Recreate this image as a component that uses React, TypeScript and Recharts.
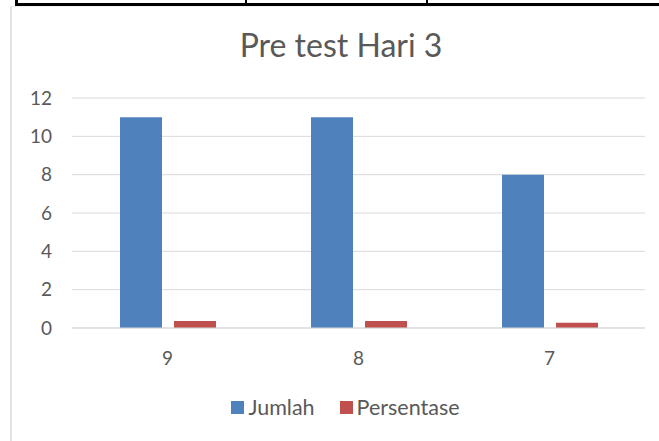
import { Bar, BarChart, CartesianGrid, Legend, XAxis, YAxis } from 'recharts';

const categories = ['9', '8', '7'];
const jumlah = [11, 11, 8];
const persentase = [0.37, 0.37, 0.27];
const yTicks = [0, 2, 4, 6, 8, 10, 12];
const chartTitle = 'Pre test Hari 3';

const data = categories.map((name, i) => ({
  name,
  Jumlah: jumlah[i],
  Persentase: persentase[i],
}));

const FONT = 'Lato, "Open Sans", sans-serif';
const TEXT = '#595959';
const BLUE = '#4F81BD';
const RED = '#C0504D';

const renderLegend = (props: any) => {
  const items = props.payload || [];
  return (
    <div style={{ display: 'flex', justifyContent: 'center', fontFamily: FONT, fontSize: 21.5, color: TEXT }}>
      {items.map((it: any, i: number) => (
        <div key={it.value} style={{ display: 'flex', alignItems: 'center', marginLeft: i === 0 ? 0 : 25 }}>
          <span style={{ width: 13, height: 13, background: it.color, display: 'inline-block', marginRight: 4 }} />
          <span>{it.value}</span>
        </div>
      ))}
    </div>
  );
};

const App = () => {
  return (
    <div style={{ position: 'absolute', left: 0, top: 0, width: 659, height: 441, background: '#fff', overflow: 'hidden' }}>
      {/* table lines above the chart */}
      <div style={{ position: 'absolute', left: 15, top: 3, width: 660, height: 3, background: '#000' }} />
      <div style={{ position: 'absolute', left: 15, top: 0, width: 3, height: 5, background: '#000' }} />
      <div style={{ position: 'absolute', left: 245, top: 0, width: 2, height: 5, background: '#000' }} />
      <div style={{ position: 'absolute', left: 426, top: 0, width: 2, height: 5, background: '#000' }} />
      {/* chart frame */}
      <div
        style={{
          position: 'absolute',
          left: 10,
          top: 6,
          width: 700,
          height: 500,
          borderLeft: '2px solid #e3e3e3',
          borderTop: '1px solid #f0f0f0',
        }}
      />
      <div
        style={{
          position: 'absolute',
          left: 0,
          top: 25,
          width: 682,
          textAlign: 'center',
          fontFamily: FONT,
          fontSize: 32,
          color: TEXT,
          lineHeight: 'normal',
        }}
      >
        {chartTitle}
      </div>
      <div style={{ position: 'absolute', left: 0, top: 0 }}>
        <BarChart
          width={659}
          height={441}
          data={data}
          margin={{ top: 98, right: 14, bottom: 83, left: 12 }}
          barCategoryGap={48}
          barGap={12}
        >
          <CartesianGrid vertical={false} stroke="#d9d9d9" />
          <XAxis
            dataKey="name"
            height={30}
            tickLine={false}
            axisLine={{ stroke: '#d9d9d9' }}
            tickSize={0}
            tickMargin={24}
            tick={{ fill: TEXT, fontSize: 19, fontFamily: FONT }}
          />
          <YAxis
            width={60}
            domain={[0, 12]}
            ticks={yTicks}
            interval={0}
            tickLine={false}
            axisLine={false}
            tickSize={0}
            tickMargin={20}
            tick={{ fill: TEXT, fontSize: 19, fontFamily: FONT }}
          />
          <Legend
            verticalAlign="middle"
            align="center"
            layout="horizontal"
            content={renderLegend}
            wrapperStyle={{ top: 394, left: 16, width: 659 }}
          />
          <Bar dataKey="Jumlah" fill={BLUE} barSize={42} isAnimationActive={false} />
          <Bar dataKey="Persentase" fill={RED} barSize={42} isAnimationActive={false} />
        </BarChart>
      </div>
    </div>
  );
};

export default App;
